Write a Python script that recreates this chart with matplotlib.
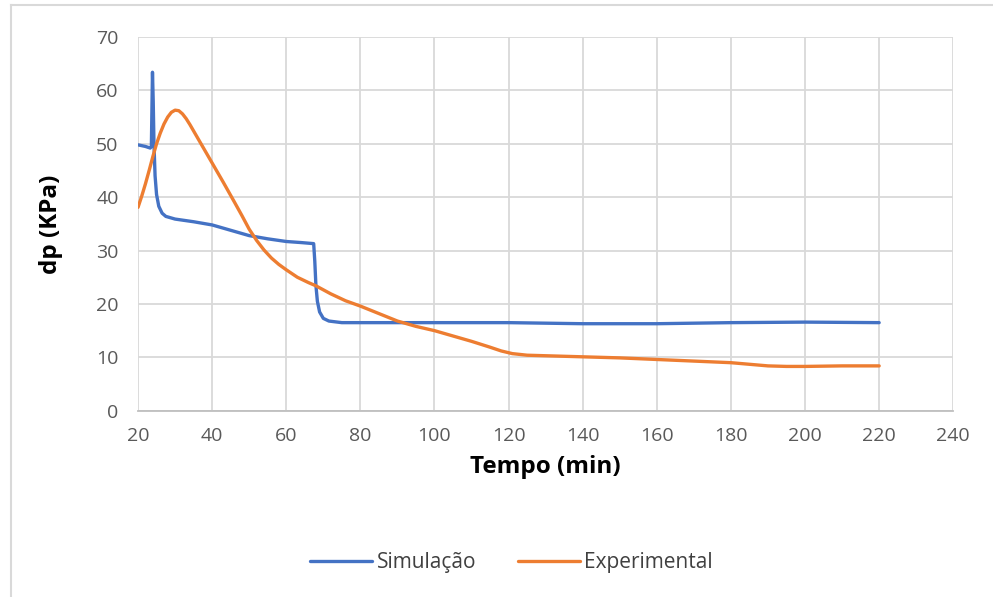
import matplotlib.pyplot as plt
from matplotlib.lines import Line2D

plt.rcParams['font.family'] = ['Open Sans', 'DejaVu Sans']

# Simulated pressure drop (kPa) vs time (min)
sim_t = [20, 22, 23.3, 23.6, 23.9, 24.1, 24.3, 24.6, 25.0, 25.6, 26.5, 27.5, 30, 35, 40,
         45, 50, 55, 60, 64, 67.4, 67.7, 68.0, 68.4, 69.0, 70.0, 71.5, 75, 80, 100,
         120, 140, 160, 180, 200, 220]
sim_dp = [49.8, 49.5, 49.2, 49.5, 63.4, 58.0, 50.0, 44.0, 40.5, 38.3, 37.0, 36.4, 35.9, 35.4, 34.8,
          33.8, 32.8, 32.2, 31.7, 31.5, 31.3, 28.0, 23.5, 20.5, 18.5, 17.3, 16.8, 16.5, 16.5, 16.5,
          16.5, 16.3, 16.3, 16.5, 16.6, 16.5]

# Experimental pressure drop (kPa) vs time (min)
exp_t = [20, 21, 22, 23, 24, 25, 26, 27, 28, 29, 30, 31, 32, 33, 34, 36, 38, 40, 43, 46,
         48, 50, 52, 54, 56, 58, 60, 63, 66, 68, 72, 76, 80, 85, 90, 95, 100, 105, 110,
         115, 118, 121, 125, 130, 140, 150, 160, 170, 180, 185, 190, 195, 200, 210, 220]
exp_dp = [38.1, 40.2, 42.5, 45.0, 47.6, 50.0, 52.0, 53.7, 55.0, 55.9, 56.3, 56.2, 55.6, 54.7,
          53.6, 51.2, 48.8, 46.4, 42.8, 39.1, 36.6, 34.0, 31.9, 30.1, 28.6, 27.4, 26.4, 25.0,
          24.0, 23.4, 21.9, 20.6, 19.6, 18.2, 16.8, 15.8, 15.0, 14.0, 13.0, 11.9, 11.2, 10.7,
          10.4, 10.3, 10.1, 9.9, 9.6, 9.3, 9.0, 8.7, 8.4, 8.3, 8.3, 8.4, 8.4]

x_ticks = list(range(20, 241, 20))
y_ticks = list(range(0, 71, 10))

fig = plt.figure(figsize=(9.93, 5.97), dpi=100)
ax = fig.add_axes([0.139, 0.312, 0.821, 0.626])

ax.plot(sim_t, sim_dp, color='#4472C4', lw=2.4, label='Simulação',
        solid_joinstyle='round', solid_capstyle='round')
ax.plot(exp_t, exp_dp, color='#ED7D31', lw=2.4, label='Experimental',
        solid_joinstyle='round', solid_capstyle='round')

ax.set_xlim(20, 240)
ax.set_ylim(0, 70)
ax.set_xticks(x_ticks)
ax.set_yticks(y_ticks)
ax.grid(True, color='#d9d9d9', lw=1.3)
ax.set_axisbelow(True)
for side in ['top', 'right', 'left']:
    ax.spines[side].set_visible(False)
ax.spines['bottom'].set_color('#bfbfbf')
ax.spines['bottom'].set_linewidth(1.3)
ax.tick_params(length=0, labelsize=14, colors='#595959')
ax.tick_params(axis='x', pad=12)
ax.tick_params(axis='y', pad=14)

ax.set_xlabel('Tempo (min)', fontsize=17.5, fontweight='bold', color='#000000')
ax.set_ylabel('dp (KPa)', fontsize=17.5, fontweight='bold', color='#000000')
ax.xaxis.set_label_coords(0.5, -0.118)
ax.yaxis.set_label_coords(-0.092, 0.5)

fig.legend(loc='center', bbox_to_anchor=(0.515, 0.057), ncol=2, frameon=False,
           fontsize=15, handlelength=3.0, columnspacing=2.0, handletextpad=0.2,
           labelcolor='#404040')

# chart frame
fig.add_artist(Line2D([11 / 993, 11 / 993], [0, 1 - 5 / 597], color='#d9d9d9', lw=1.5))
fig.add_artist(Line2D([11 / 993, 1], [1 - 5 / 597, 1 - 5 / 597], color='#d9d9d9', lw=1.5))

fig.savefig('out.png', dpi=100)
